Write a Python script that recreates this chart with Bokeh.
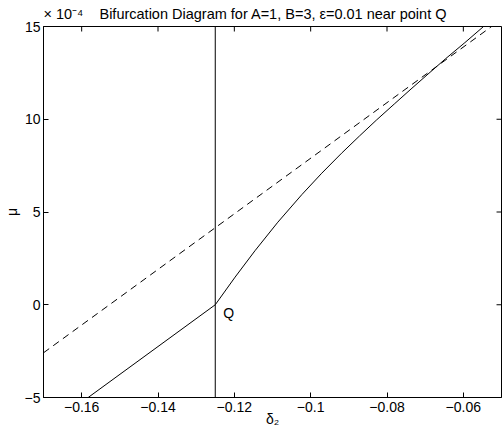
from bokeh.plotting import figure
from bokeh.models import Range1d, FixedTicker, Label, Title
from bokeh.embed import file_html
from bokeh.resources import INLINE

# ---- data (mu in units of 1e-4) ----
delta_vert = [-0.125, -0.125]
mu_vert = [-5.0, 15.0]

delta_lower = [-0.1583, -0.1250]
mu_lower = [-5.0, 0.0]

delta_upper = [-0.1250, -0.1198, -0.1146, -0.1086, -0.1023, -0.0971, -0.0919,
               -0.0872, -0.0828, -0.0781, -0.0737, -0.0690, -0.0646, -0.0596, -0.0547]
mu_upper = [0.0, 1.49, 2.91, 4.45, 5.94, 7.09, 8.17,
            9.10, 9.95, 10.82, 11.63, 12.48, 13.27, 14.13, 15.0]

delta_dash = [-0.17, -0.05]
mu_dash = [-2.59, 15.39]

x_ticks = [-0.16, -0.14, -0.12, -0.10, -0.08, -0.06]
x_tick_labels = ["\u22120.16", "\u22120.14", "\u22120.12", "\u22120.1", "\u22120.08", "\u22120.06"]
y_ticks = [-5, 0, 5, 10, 15]
y_tick_labels = ["\u22125", "0", "5", "10", "15"]

X_MIN, X_MAX = -0.17, -0.05
Y_MIN, Y_MAX = -5, 15

title_text = "Bifurcation Diagram for A=1, B=3, \u03b5=0.01 near point Q"
exponent_text = "\u00d7 10\u207b\u2074"
FONT = "Liberation Sans"

W, H = 502, 446
BL, BR, BT, BB = 40, 1, 26, 49

p = figure(width=W, height=H,
           x_range=Range1d(X_MIN, X_MAX), y_range=Range1d(Y_MIN, Y_MAX),
           output_backend="svg", toolbar_location=None,
           min_border_left=BL, min_border_right=BR,
           min_border_top=BT, min_border_bottom=BB)
p.xgrid.visible = False
p.ygrid.visible = False
p.outline_line_color = "black"
p.outline_line_width = 1
p.background_fill_color = "white"
p.border_fill_color = "white"


def style_axis(ax, ticks, labels):
    ax.ticker = FixedTicker(ticks=ticks)
    ax.major_label_overrides = {t: l for t, l in zip(ticks, labels)}
    ax.major_tick_in = 5
    ax.major_tick_out = 0
    ax.minor_tick_in = 0
    ax.minor_tick_out = 0
    ax.axis_line_color = "black"
    ax.major_tick_line_color = "black"
    ax.major_label_text_font = FONT
    ax.major_label_text_color = "black"
    ax.major_label_text_font_size = "14px"
    ax.axis_label_text_font = FONT
    ax.axis_label_text_font_style = "normal"
    ax.axis_label_text_font_size = "14px"
    ax.axis_label_text_color = "black"


style_axis(p.xaxis[0], x_ticks, x_tick_labels)
style_axis(p.yaxis[0], y_ticks, y_tick_labels)
p.xaxis[0].major_label_standoff = 4
p.yaxis[0].major_label_standoff = 3
p.xaxis[0].axis_label = "\u03b4\u2082"
p.xaxis[0].axis_label_standoff = -4
p.yaxis[0].axis_label = "\u03bc"
p.yaxis[0].axis_label_standoff = 2

# inward ticks on the top and right edges of the box
fw = W - BL - BR
fh = H - BT - BB
ty = 5 * (Y_MAX - Y_MIN) / fh
tx = 5 * (X_MAX - X_MIN) / fw
p.segment(x0=x_ticks, y0=[Y_MAX] * len(x_ticks), x1=x_ticks,
          y1=[Y_MAX - ty] * len(x_ticks), line_color="black", line_width=1)
p.segment(x0=[X_MAX] * len(y_ticks), y0=y_ticks, x1=[X_MAX - tx] * len(y_ticks),
          y1=y_ticks, line_color="black", line_width=1)

# ---- curves ----
p.line(delta_vert, mu_vert, line_color="black", line_width=1)
p.line(delta_lower, mu_lower, line_color="black", line_width=1)
p.line(delta_upper, mu_upper, line_color="black", line_width=1)
p.line(delta_dash, mu_dash, line_color="black", line_width=1, line_dash="7 5")

# ---- title row (exponent marker + title) ----
nbsp = "\u00a0"
p.add_layout(Title(text=exponent_text + nbsp * 4 + title_text, align="left",
                   vertical_align="top", offset=0, standoff=5, text_font=FONT,
                   text_font_size="14.5px", text_font_style="normal",
                   text_color="black"), "above")

p.add_layout(Label(x=delta_lower[-1], y=mu_lower[-1], text="Q", text_font=FONT,
                   text_font_size="14px", text_align="left",
                   text_baseline="middle", x_offset=8, y_offset=-8,
                   text_color="black"))

open("out.html", "w").write(file_html(p, INLINE))
